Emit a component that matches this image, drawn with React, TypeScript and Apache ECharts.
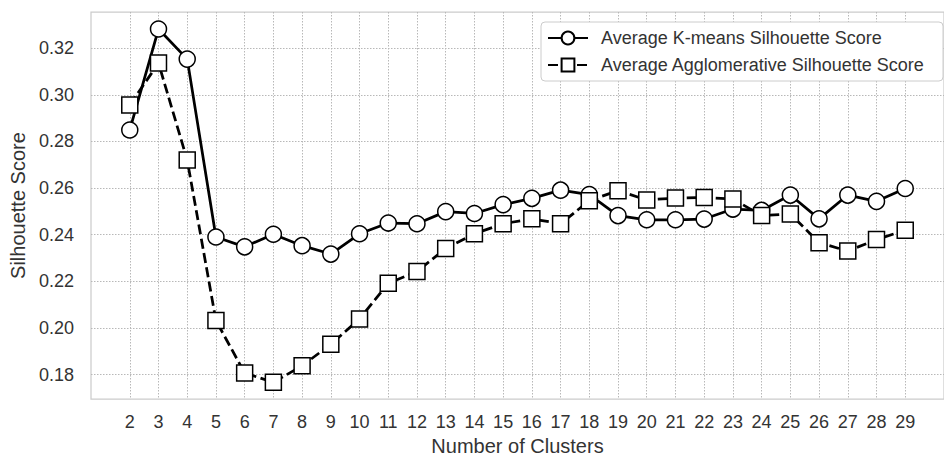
import React, { useEffect, useRef } from "react";
import * as echarts from "echarts";

// Number of clusters evaluated
const clusters: number[] = [
  2, 3, 4, 5, 6, 7, 8, 9, 10, 11, 12, 13, 14, 15, 16, 17, 18, 19, 20, 21, 22,
  23, 24, 25, 26, 27, 28, 29,
];

// Average silhouette score per clustering method
const kmeansScores: number[] = [
  0.2849, 0.3282, 0.3153, 0.239, 0.2348, 0.2402, 0.2353, 0.2317, 0.2404,
  0.245, 0.2447, 0.2499, 0.2491, 0.2529, 0.2556, 0.2591, 0.2572, 0.2482,
  0.2464, 0.2464, 0.2467, 0.251, 0.2504, 0.257, 0.2468, 0.257, 0.2543, 0.2598,
];
const agglomerativeScores: number[] = [
  0.2956, 0.3136, 0.272, 0.2032, 0.1807, 0.1767, 0.1838, 0.193, 0.2039,
  0.2192, 0.2242, 0.2341, 0.2404, 0.2447, 0.2468, 0.2447, 0.2546, 0.2589,
  0.2549, 0.2557, 0.256, 0.2553, 0.2482, 0.2489, 0.2366, 0.233, 0.2379,
  0.2419,
];

// Y tick values
const yTicks: number[] = [0.18, 0.2, 0.22, 0.24, 0.26, 0.28, 0.3, 0.32];

const seriesNames = [
  "Average K-means Silhouette Score",
  "Average Agglomerative Silhouette Score",
];

const FONT = "'Liberation Sans', Arial, Helvetica, sans-serif";
const TEXT = "#333333";
const GRID = "#b8b8b8";

export default function App() {
  const ref = useRef<HTMLDivElement>(null);

  useEffect(() => {
    if (!ref.current) return;
    const chart = echarts.init(ref.current, undefined, { renderer: "svg" });

    const pairs = (vals: number[]) => clusters.map((c, i) => [c, vals[i]]);

    const splitLine = {
      show: true,
      lineStyle: { color: GRID, width: 1, type: [1.5, 1.5] as number[] },
    };

    chart.setOption({
      animation: false,
      backgroundColor: "#ffffff",
      textStyle: { fontFamily: FONT },
      grid: {
        left: 91,
        top: 12,
        right: -12,
        bottom: 57,
        show: true,
        borderColor: "#cccccc",
        borderWidth: 1.25,
        backgroundColor: "transparent",
      },
      xAxis: {
        type: "value",
        min: 0.65,
        max: 30.35,
        name: "Number of Clusters",
        nameLocation: "middle",
        nameGap: 33,
        nameTextStyle: { color: TEXT, fontSize: 20, fontFamily: FONT },
        axisLine: { show: false },
        axisTick: { show: false, customValues: clusters },
        axisLabel: {
          customValues: clusters,
          color: TEXT,
          fontSize: 18,
          fontFamily: FONT,
          margin: 14,
        },
        splitLine,
      },
      yAxis: {
        type: "value",
        min: 0.1695,
        max: 0.3355,
        name: "Silhouette Score",
        nameLocation: "middle",
        nameGap: 60,
        nameTextStyle: { color: TEXT, fontSize: 20, fontFamily: FONT },
        axisLine: { show: false },
        axisTick: { show: false, customValues: yTicks },
        axisLabel: {
          customValues: yTicks,
          color: TEXT,
          fontSize: 18,
          fontFamily: FONT,
          margin: 17,
          formatter: (v: number) => v.toFixed(2),
        },
        splitLine,
      },
      graphic: [
        {
          type: "rect",
          z: 4,
          shape: { x: 541, y: 22, width: 402, height: 59, r: 4 },
          style: { fill: "#ffffff", stroke: "#cccccc", lineWidth: 1 },
        },
      ],
      legend: {
        z: 5,
        orient: "vertical",
        left: 547,
        top: 29,
        itemWidth: 40,
        itemHeight: 16,
        itemGap: 9,
        padding: 0,
        textStyle: { color: TEXT, fontSize: 18, fontFamily: FONT, padding: [0, 0, 0, 8] },
        data: seriesNames,
      },
      series: [
        {
          name: seriesNames[0],
          type: "line",
          data: pairs(kmeansScores),
          symbol: "circle",
          symbolSize: 16,
          z: 2,
          lineStyle: { color: "#000000", width: 2.75 },
          itemStyle: { color: "#ffffff", borderColor: "#000000", borderWidth: 1.5 },
        },
        {
          name: seriesNames[1],
          type: "line",
          data: pairs(agglomerativeScores),
          symbol: "rect",
          symbolSize: 16,
          z: 3,
          lineStyle: { color: "#000000", width: 2.75, type: [10, 4.5] as number[] },
          itemStyle: { color: "#ffffff", borderColor: "#000000", borderWidth: 1.5 },
        },
      ],
    });

    return () => chart.dispose();
  }, []);

  return (
    <div
      ref={ref}
      style={{ position: "fixed", left: 0, top: 0, width: 944, height: 461 }}
    />
  );
}
